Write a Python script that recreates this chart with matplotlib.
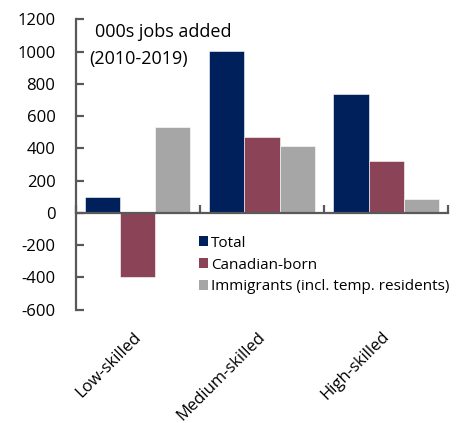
import matplotlib
matplotlib.use("Agg")
import matplotlib.pyplot as plt
from matplotlib.patches import Patch
import numpy as np

categories = ["Low-skilled", "Medium-skilled", "High-skilled"]
series_names = ["Total", "Canadian-born", "Immigrants (incl. temp. residents)"]
total = [97, 1005, 740]
canadian_born = [-400, 470, 322]
immigrants = [535, 418, 87]
yticks = [-600, -400, -200, 0, 200, 400, 600, 800, 1000, 1200]

colors = ["#00205B", "#8B4457", "#A6A6A6"]
spine_color = "#595959"

plt.rcParams["font.family"] = ["Open Sans", "DejaVu Sans"]

fig = plt.figure(figsize=(4.64, 4.23), dpi=100)
ax = fig.add_axes([0.163, 0.268, 0.803, 0.686])

x = np.arange(len(categories))
width = 0.283
for k, (vals, name, col) in enumerate(zip([total, canadian_born, immigrants], series_names, colors)):
    ax.bar(x + (k - 1) * width, vals, width, color=col, label=name,
           edgecolor="white", linewidth=0.4)

ax.set_xlim(-0.5, 2.5)
ax.set_ylim(-600, 1200)
ax.set_yticks(yticks)
ax.set_yticklabels([str(v) for v in yticks])

for s in ["top", "right"]:
    ax.spines[s].set_visible(False)
ax.spines["left"].set_color(spine_color)
ax.spines["left"].set_linewidth(1.6)
ax.spines["bottom"].set_position(("data", 0))
ax.spines["bottom"].set_color(spine_color)
ax.spines["bottom"].set_linewidth(1.6)

ax.tick_params(axis="y", direction="in", length=6, width=1.6, color=spine_color,
               pad=14.5, labelsize=12, labelcolor="black")
# category boundaries carry the x ticks
ax.set_xticks([-0.5, 0.5, 1.5, 2.5])
ax.set_xticklabels([])
ax.tick_params(axis="x", direction="in", length=6, width=1.6, color=spine_color)

# category names below the plot area, rotated
for xi, name in zip(x, categories):
    ax.text(xi - 0.036, -0.066, name, transform=ax.get_xaxis_transform(),
            rotation=45, ha="right", va="top", rotation_mode="anchor",
            fontsize=12)

ax.text(0.052, 0.939, "000s jobs added", transform=ax.transAxes, fontsize=13,
        ha="left", va="baseline")
ax.text(0.036, 0.848, "(2010-2019)", transform=ax.transAxes, fontsize=13,
        ha="left", va="baseline")

handles = [Patch(facecolor=c, edgecolor="none") for c in colors]
ax.legend(handles, series_names, loc="upper left", bbox_to_anchor=(0.33, 0.255),
          frameon=False, fontsize=11, handlelength=0.6, handleheight=0.6,
          handletextpad=0.2, labelspacing=0.45, borderaxespad=0, borderpad=0)

fig.savefig("out.png", dpi=100)
